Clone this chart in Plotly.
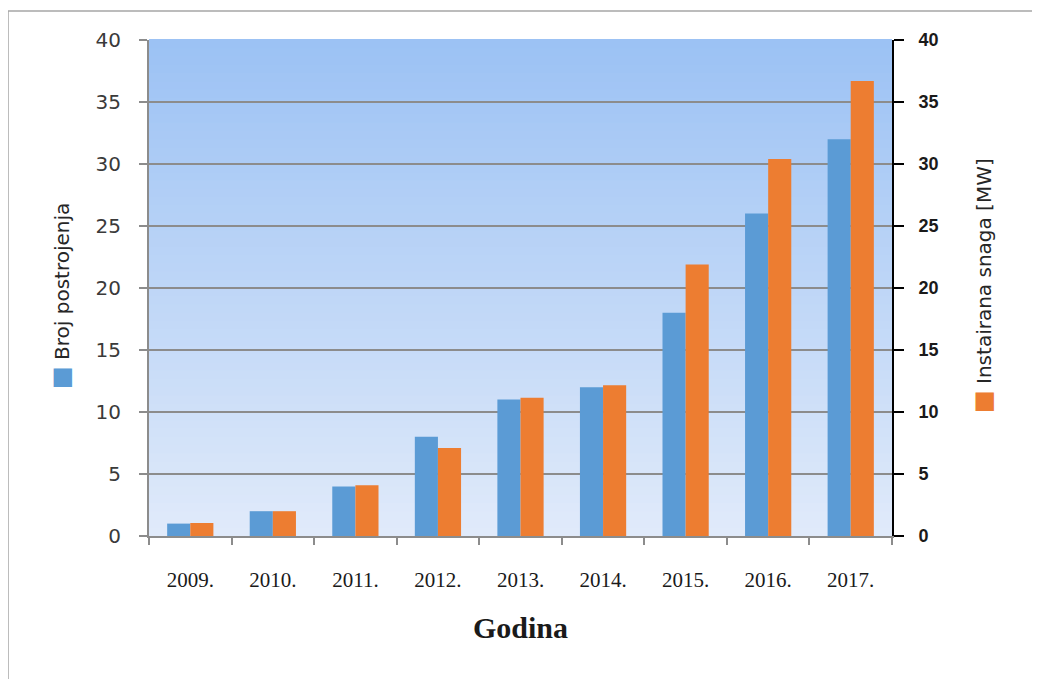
import plotly.graph_objects as go

years = ["2009.", "2010.", "2011.", "2012.", "2013.", "2014.", "2015.", "2016.", "2017."]
broj_postrojenja = [1, 2, 4, 8, 11, 12, 18, 26, 32]
instalirana_snaga = [1.05, 2.0, 4.1, 7.1, 11.15, 12.15, 21.9, 30.4, 36.7]
y_ticks = [0, 5, 10, 15, 20, 25, 30, 35, 40]

BLUE = "#5b9bd5"
ORANGE = "#ed7d31"

# plot area in page pixels (page has an 8px body offset)
OFF = 8
L, R, T, B = 149, 892, 40, 536
W, H = 1040, 679

fig = go.Figure()
fig.add_trace(go.Bar(x=years, y=broj_postrojenja, name="Broj postrojenja",
                     marker=dict(color=BLUE, line=dict(width=0)), offsetgroup="1"))
fig.add_trace(go.Bar(x=years, y=instalirana_snaga, name="Instairana snaga [MW]",
                     marker=dict(color=ORANGE, line=dict(width=0)), offsetgroup="2", yaxis="y2"))

pw = R - L
ph = B - T


def px(xp):
    return (xp - L) / pw


def py(yp):
    return (B - yp) / ph


shapes = []
n = 60
top = (0x9c, 0xc2, 0xf4)
bot = (0xe0, 0xea, 0xfa)
for i in range(n):
    t = i / (n - 1)
    c = tuple(round(bot[k] + (top[k] - bot[k]) * t) for k in range(3))
    shapes.append(dict(type="rect", xref="x domain", yref="y domain",
                       x0=0, x1=1, y0=i / n, y1=(i + 1) / n + 0.002,
                       fillcolor="rgb(%d,%d,%d)" % c, line=dict(width=0), layer="below"))
shapes.append(dict(type="rect", xref="paper", yref="paper",
                   x0=px(8), x1=px(1100), y0=py(760), y1=py(11),
                   line=dict(color="#a6a6a6", width=1.5), fillcolor="rgba(0,0,0,0)", layer="below"))

fig.update_layout(
    width=W, height=H,
    margin=dict(l=L - OFF, r=W - (R - OFF), t=T - OFF, b=H - (B - OFF)),
    paper_bgcolor="white", plot_bgcolor="rgba(0,0,0,0)",
    barmode="group", bargap=0.44, bargroupgap=0,
    showlegend=False,
    shapes=shapes,
    xaxis=dict(
        type="category", tickson="boundaries", ticks="outside", ticklen=7,
        tickcolor="#8c8c8c", tickwidth=1.5,
        showline=True, linecolor="#8c8c8c", linewidth=2,
        showgrid=False,
        tickfont=dict(family="Liberation Serif", size=21, color="#1a1a1a"),
        ticklabelstandoff=24,
        title=dict(text="Godina", font=dict(family="Liberation Serif", size=30, color="#1a1a1a", weight="bold"),
                   standoff=26),
    ),
    yaxis=dict(
        range=[0, 40], tickvals=y_ticks, ticks="outside", ticklen=8,
        tickcolor="#8c8c8c", tickwidth=1.5,
        showline=True, linecolor="#8c8c8c", linewidth=2,
        showgrid=True, gridcolor="#8c8c8c", gridwidth=2,
        zeroline=False,
        tickfont=dict(family="DejaVu Sans", size=20, color="#3a3a3a"),
        ticklabelstandoff=14,
    ),
    yaxis2=dict(
        overlaying="y", side="right",
        range=[0, 40], tickvals=y_ticks, ticks="outside", ticklen=10,
        tickcolor="black", tickwidth=2,
        showline=True, linecolor="black", linewidth=2,
        showgrid=False, zeroline=False,
        tickfont=dict(family="Liberation Sans", size=18, color="#1a1a1a", weight="bold"),
        ticklabelstandoff=11,
    ),
    annotations=[
        dict(xref="paper", yref="paper", x=px(45), y=py(296),
             text='<span style="color:%s;font-size:24px">■</span> Broj postrojenja' % BLUE,
             textangle=-90, showarrow=False,
             font=dict(family="DejaVu Sans", size=20, color="#262626")),
        dict(xref="paper", yref="paper", x=px(999), y=py(286),
             text='<span style="color:%s;font-size:24px">■</span> Instairana snaga [MW]' % ORANGE,
             textangle=-90, showarrow=False,
             font=dict(family="DejaVu Sans", size=20, color="#262626")),
    ],
)

fig.write_html("out.html")
